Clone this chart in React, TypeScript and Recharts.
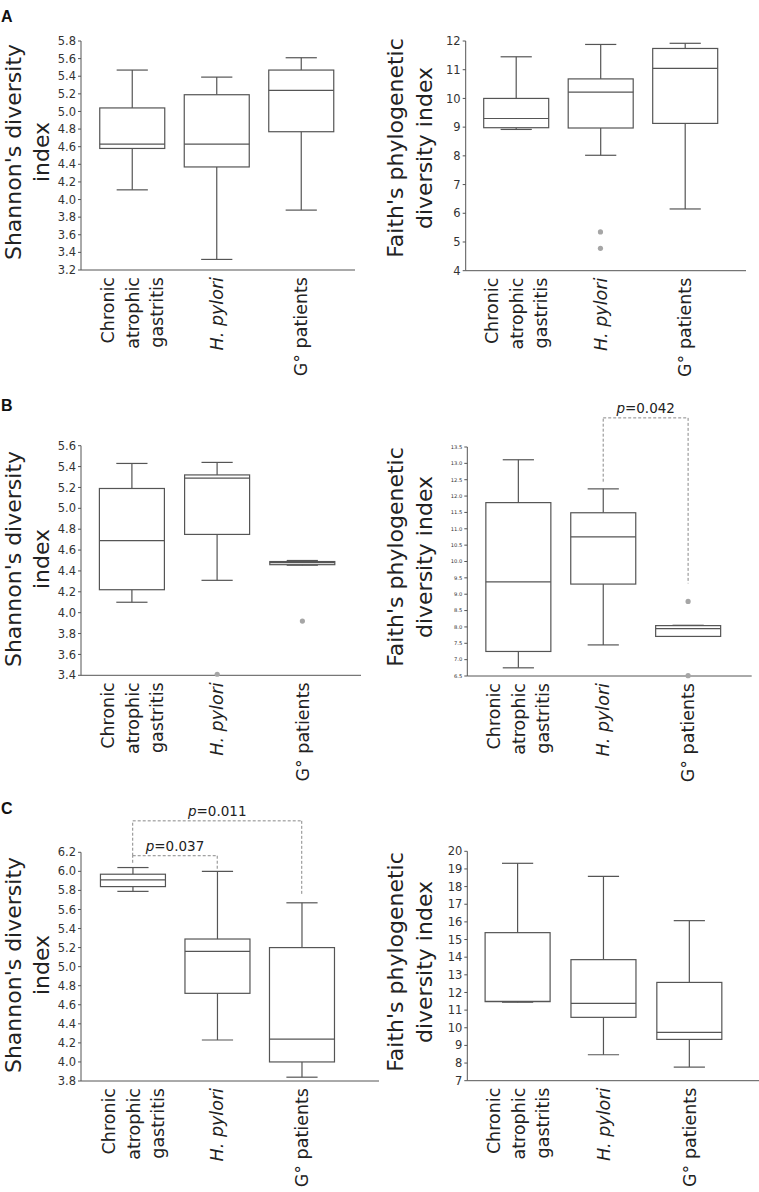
import React from 'react';
import { ComposedChart, Bar, Scatter, XAxis, YAxis, ReferenceLine } from 'recharts';

const groups = ['Chronic atrophic gastritis', 'H. pylori', 'G° patients'];

// [lower whisker, Q1, median, Q3, upper whisker] for each group
const shannonA = [[4.11, 4.58, 4.63, 5.04, 5.47], [3.32, 4.37, 4.63, 5.19, 5.39], [3.88, 4.77, 5.24, 5.47, 5.61]];
const faithA = [[8.92, 8.98, 9.3, 10.0, 11.45], [8.02, 8.97, 10.22, 10.68, 11.88], [6.15, 9.13, 11.05, 11.74, 11.92]];
const shannonB = [[4.1, 4.22, 4.69, 5.19, 5.43], [4.31, 4.75, 5.29, 5.32, 5.44], [4.455, 4.46, 4.48, 4.49, 4.5]];
const faithB = [[6.75, 7.25, 9.38, 11.8, 13.11], [7.45, 9.31, 10.75, 11.49, 12.22], [7.71, 7.71, 7.95, 8.04, 8.05]];
const shannonC = [[5.79, 5.84, 5.91, 5.97, 6.04], [4.23, 4.72, 5.16, 5.29, 6.0], [3.84, 4.0, 4.24, 5.2, 5.67]];
const faithC = [[11.45, 11.48, 11.5, 15.39, 19.32], [8.47, 10.59, 11.38, 13.86, 18.58], [7.77, 9.34, 9.74, 12.57, 16.07]];

// outliers: [group index, value]
const outFaithA = [[1, 5.35], [1, 4.78]];
const outShannonB = [[1, 3.41], [2, 3.92]];
const outFaithB = [[2, 8.78], [2, 6.51]];

const ticksShannonA = [3.2, 3.4, 3.6, 3.8, 4.0, 4.2, 4.4, 4.6, 4.8, 5.0, 5.2, 5.4, 5.6, 5.8];
const ticksFaithA = [4, 5, 6, 7, 8, 9, 10, 11, 12];
const ticksShannonB = [3.4, 3.6, 3.8, 4.0, 4.2, 4.4, 4.6, 4.8, 5.0, 5.2, 5.4, 5.6];
const ticksFaithB = [6.5, 7.0, 7.5, 8.0, 8.5, 9.0, 9.5, 10.0, 10.5, 11.0, 11.5, 12.0, 12.5, 13.0, 13.5];
const ticksShannonC = [3.8, 4.0, 4.2, 4.4, 4.6, 4.8, 5.0, 5.2, 5.4, 5.6, 5.8, 6.0, 6.2];
const ticksFaithC = [7, 8, 9, 10, 11, 12, 13, 14, 15, 16, 17, 18, 19, 20];

// p-value brackets: [from group, to group, bracket top, start value, end value, label]
const bracketsFaithB = [[1, 2, 14.39, 12.44, 9.33, '0.042']];
const bracketsShannonC = [
  [0, 1, 6.164, 6.09, 6.025, '0.037'],
  [0, 2, 6.53, 6.164, 5.75, '0.011'],
];

const FONT = '"DejaVu Sans", Verdana, sans-serif';
const LINE = '#555';

const toRows = (stats: number[][]) =>
  groups.map((name, i) => ({ name, lo: stats[i][0], q1: stats[i][1], med: stats[i][2], q3: stats[i][3], hi: stats[i][4] }));

const BoxShape = (props: any) => {
  const { x, y, width, height, payload } = props;
  const top = Math.min(y, y + height);
  const h = Math.abs(height);
  const span = payload.hi - payload.lo;
  const py = (v: number) => top + ((payload.hi - v) / span) * h;
  const cx = x + width / 2;
  const cap = width * 0.24;
  return (
    <g stroke={LINE} strokeWidth={1.2} fill="none">
      <line x1={cx} x2={cx} y1={py(payload.hi)} y2={py(payload.q3)} />
      <line x1={cx} x2={cx} y1={py(payload.q1)} y2={py(payload.lo)} />
      <line x1={cx - cap} x2={cx + cap} y1={py(payload.hi)} y2={py(payload.hi)} />
      <line x1={cx - cap} x2={cx + cap} y1={py(payload.lo)} y2={py(payload.lo)} />
      <rect x={x} y={py(payload.q3)} width={width} height={py(payload.q1) - py(payload.q3)} fill="#fff" />
      <line x1={x} x2={x + width} y1={py(payload.med)} y2={py(payload.med)} />
    </g>
  );
};

const CategoryTick = (props: any) => {
  const { x, y, payload } = props;
  const v = payload.value as string;
  const cols = v === groups[0] ? [[-24, 'Chronic'], [1, 'atrophic'], [25, 'gastritis']] : [[0, v]];
  return (
    <g>
      {cols.map(([dx, t]) => (
        <text
          key={t as string}
          transform={`translate(${x + (dx as number)},${y + 7}) rotate(-90)`}
          textAnchor="end"
          dy="0.35em"
          fontSize={17.5}
          fontFamily={FONT}
          fontStyle={v === groups[1] ? 'italic' : 'normal'}
          fill="#222"
        >
          {t}
        </text>
      ))}
    </g>
  );
};

const PLabel = (props: any) => {
  const vb = props.viewBox || {};
  const cx = vb.x + (vb.width || 0) / 2;
  return (
    <text x={cx} y={vb.y - 5} textAnchor="middle" fontSize={13.5} fontFamily={FONT} fill="#222">
      <tspan fontStyle="italic">p</tspan>={props.text}
    </text>
  );
};

interface PanelProps {
  x0: number;
  y0: number;
  w: number;
  h: number;
  plot: number[];
  pad: number[];
  stats: number[][];
  ticks: number[];
  tickFont?: number;
  digits?: number;
  outliers?: number[][];
  brackets?: any[];
}

function BoxPanel({ x0, y0, w, h, plot, pad, stats, ticks, tickFont = 11.5, digits = 1, outliers = [], brackets = [] }: PanelProps) {
  const yAxisWidth = 40;
  const [pl, pt, pr, pb] = plot;
  const rows = toRows(stats);
  const outData = outliers.map(([g, v]) => ({ name: groups[g], out: v }));
  return (
    <div style={{ position: 'absolute', left: x0, top: y0 }}>
      <ComposedChart
        width={w}
        height={h}
        data={rows}
        margin={{ top: pt - y0, left: pl - x0 - yAxisWidth, right: x0 + w - pr, bottom: 0 }}
        style={{ fontFamily: FONT }}
      >
        <XAxis
          dataKey="name"
          allowDuplicatedCategory={false}
          height={y0 + h - pb}
          padding={{ left: pad[0], right: pad[1] }}
          stroke={LINE}
          tickLine={false}
          tickSize={0}
          tickMargin={0}
          interval={0}
          tick={<CategoryTick />}
        />
        <YAxis
          width={yAxisWidth}
          domain={[ticks[0], ticks[ticks.length - 1]]}
          ticks={ticks}
          interval={0}
          stroke={LINE}
          tickSize={3}
          tickMargin={2}
          tick={{ fontSize: tickFont, fill: '#333', fontFamily: FONT }}
          tickFormatter={(v: number) => (digits ? v.toFixed(digits) : String(v))}
        />
        <Bar dataKey={(d: any) => [d.lo, d.hi]} barSize={65} shape={<BoxShape />} isAnimationActive={false} />
        {outData.length > 0 && (
          <Scatter
            data={outData}
            dataKey="out"
            isAnimationActive={false}
            shape={(p: any) => <circle cx={p.cx} cy={p.cy} r={2.6} fill="#a6a6a6" />}
          />
        )}
        {brackets.map(([a, b, top, ya, yb, label]: any, i: number) => [
          <ReferenceLine
            key={`l${i}`}
            segment={[{ x: groups[a], y: ya }, { x: groups[a], y: top }]}
            stroke="#888"
            strokeDasharray="3 2"
            ifOverflow="visible"
          />,
          <ReferenceLine
            key={`t${i}`}
            segment={[{ x: groups[a], y: top }, { x: groups[b], y: top }]}
            stroke="#888"
            strokeDasharray="3 2"
            ifOverflow="visible"
            label={<PLabel text={label} />}
          />,
          <ReferenceLine
            key={`r${i}`}
            segment={[{ x: groups[b], y: top }, { x: groups[b], y: yb }]}
            stroke="#888"
            strokeDasharray="3 2"
            ifOverflow="visible"
          />,
        ])}
      </ComposedChart>
    </div>
  );
}

const titles = [
  { lines: ["Shannon's diversity", 'index'], x: [20.5, 49], cy: 152 },
  { lines: ["Faith's phylogenetic", 'diversity index'], x: [403, 432], cy: 148 },
  { lines: ["Shannon's diversity", 'index'], x: [20.5, 49], cy: 559 },
  { lines: ["Faith's phylogenetic", 'diversity index'], x: [403, 432], cy: 557 },
  { lines: ["Shannon's diversity", 'index'], x: [20.5, 49], cy: 965 },
  { lines: ["Faith's phylogenetic", 'diversity index'], x: [403, 432], cy: 962 },
];

const letters = [
  ['A', 22],
  ['B', 411],
  ['C', 814],
];

export default function App() {
  return (
    <div style={{ position: 'absolute', left: 0, top: 0, width: 759, height: 1192, background: '#fff', overflow: 'hidden' }}>
      <BoxPanel x0={0} y0={0} w={380} h={390} plot={[81, 41, 355, 270]} pad={[8.75, 11.75]} stats={shannonA} ticks={ticksShannonA} />
      <BoxPanel x0={380} y0={0} w={379} h={390} plot={[465.7, 41, 746, 270.7]} pad={[8, 18.8]} stats={faithA} ticks={ticksFaithA} digits={0} outliers={outFaithA} />
      <BoxPanel x0={0} y0={390} w={380} h={400} plot={[81, 445.7, 361, 675.3]} pad={[8.4, 16]} stats={shannonB} ticks={ticksShannonB} outliers={outShannonB} />
      <BoxPanel x0={380} y0={390} w={379} h={400} plot={[467.3, 447, 751.7, 676]} pad={[8.55, 21.15]} stats={faithB} ticks={ticksFaithB} tickFont={5.2} outliers={outFaithB} brackets={bracketsFaithB} />
      <BoxPanel x0={0} y0={790} w={380} h={402} plot={[81, 852.3, 379, 1081]} pad={[9.45, 35]} stats={shannonC} ticks={ticksShannonC} brackets={bracketsShannonC} />
      <BoxPanel x0={380} y0={790} w={379} h={402} plot={[467.3, 851.3, 759, 1080.7]} pad={[7.8, 26.3]} stats={faithC} ticks={ticksFaithC} digits={0} />
      <svg width={759} height={1192} style={{ position: 'absolute', left: 0, top: 0, pointerEvents: 'none' }}>
        {titles.map((t, i) =>
          t.lines.map((line, j) => (
            <text
              key={`${i}-${j}`}
              transform={`translate(${t.x[j]},${t.cy}) rotate(-90)`}
              textAnchor="middle"
              fontSize={22}
              fontFamily={FONT}
              fill="#222"
            >
              {line}
            </text>
          ))
        )}
        {letters.map(([l, y]) => (
          <text key={l as string} x={1} y={y as number} fontSize={16} fontWeight="bold" fontFamily='"Liberation Sans", Arial, sans-serif' fill="#111">
            {l}
          </text>
        ))}
      </svg>
    </div>
  );
}
